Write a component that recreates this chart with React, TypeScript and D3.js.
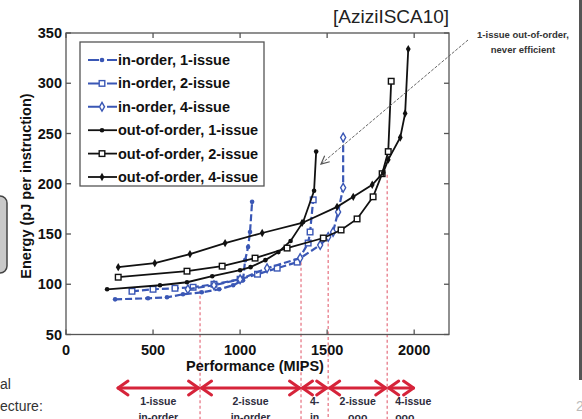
import { useRef, useEffect } from "react";
import * as d3 from "d3";

// values (MIPS, pJ per instruction)
const ioPerf1 = [282, 471, 580, 672, 780, 880, 960, 1017, 1029, 1046, 1057, 1069];
const ioEnergy1 = [85, 86, 87, 90, 92, 95, 99, 104, 124, 137, 152, 182];
const ioPerf2 = [379, 500, 626, 730, 850, 1000, 1100, 1213, 1328, 1391, 1402, 1420];
const ioEnergy2 = [93, 95, 96, 97, 100, 105, 110, 116, 122, 141, 152, 184];
const ioPerf4 = [700, 850, 1000, 1155, 1345, 1460, 1506, 1534, 1563, 1592, 1592];
const ioEnergy4 = [95, 99, 105, 116, 126, 139, 147, 152, 172, 196, 246];
const oooPerf1 = [236, 540, 695, 840, 1000, 1060, 1145, 1220, 1290, 1362, 1425, 1437];
const oooEnergy1 = [95, 99, 102, 108, 114, 117, 124, 132, 143, 162, 193, 232];
const oooPerf2 = [300, 695, 897, 1086, 1270, 1478, 1580, 1672, 1764, 1816, 1851, 1868];
const oooEnergy2 = [107, 113, 118, 126, 136, 146, 154, 165, 187, 210, 232, 302];
const oooPerf4 = [300, 510, 712, 914, 1127, 1356, 1557, 1650, 1759, 1822, 1851, 1920, 1948, 1966];
const oooEnergy4 = [117, 121, 130, 141, 151, 161, 177, 187, 199, 211, 224, 246, 270, 334];

const legendNames = [
  "in-order, 1-issue",
  "in-order, 2-issue",
  "in-order, 4-issue",
  "out-of-order, 1-issue",
  "out-of-order, 2-issue",
  "out-of-order, 4-issue",
];

const xTicks = [0, 500, 1000, 1500, 2000];
const yTicks = [50, 100, 150, 200, 250, 300, 350];

// regions of the optimal architecture
const bounds = [290, 770, 1350, 1506, 1845, 2005];
const boundTops = [94, 122, 146, 209];
const regionLabels = [
  ["1-issue", "in-order"],
  ["2-issue", "in-order"],
  ["4-", "in"],
  ["2-issue", "ooo"],
  ["4-issue", "ooo"],
];

const BLUE = "#3a57b5";
const RED = "#d6243a";
const FONT = "'Liberation Sans', Arial, sans-serif";

export default function App() {
  const svgRef = useRef(null);

  useEffect(() => {
    const svg = d3.select(svgRef.current).html(null);

    const x = d3.scaleLinear().domain([0, 2200]).range([66, 449]);
    const y = d3.scaleLinear().domain([50, 350]).range([334.5, 33]);

    svg.append("rect").attr("width", 582).attr("height", 419).attr("fill", "#fff");

    // slide leftovers
    svg.append("rect").attr("x", -20).attr("y", 196).attr("width", 27).attr("height", 77)
      .attr("rx", 7).attr("fill", "#c9c9c9").attr("stroke", "#444").attr("stroke-width", 1.5);
    svg.append("text").attr("x", 0).attr("y", 389).text("al")
      .style("font", `14px ${FONT}`).attr("fill", "#333");
    svg.append("text").attr("x", 0).attr("y", 411).text("ecture:")
      .style("font", `14px ${FONT}`).attr("fill", "#333");
    svg.append("rect").attr("x", 579).attr("y", 0).attr("width", 3).attr("height", 380).attr("fill", "#555");
    svg.append("text").attr("x", 576).attr("y", 411).text("2")
      .style("font", `14px ${FONT}`).attr("fill", "#bbb");

    svg.append("text").attr("x", 333).attr("y", 23).text("[AziziISCA10]")
      .style("font", `19px ${FONT}`).attr("fill", "#222");

    // dashed region boundaries
    svg.append("g").selectAll("line").data(boundTops).join("line")
      .attr("x1", (d, i) => x(bounds[i + 1])).attr("x2", (d, i) => x(bounds[i + 1]))
      .attr("y1", d => y(d)).attr("y2", 419)
      .attr("stroke", "#e77a88").attr("stroke-width", 1.3).attr("stroke-dasharray", "3,2.5");

    // frame + ticks
    const frame = svg.append("g").attr("stroke", "#555").attr("stroke-width", 1.3).attr("fill", "none");
    frame.append("rect").attr("x", x(0)).attr("y", y(350)).attr("width", x(2200) - x(0)).attr("height", y(50) - y(350));
    xTicks.forEach(t => {
      frame.append("line").attr("x1", x(t)).attr("x2", x(t)).attr("y1", y(50)).attr("y2", y(50) - 5);
      frame.append("line").attr("x1", x(t)).attr("x2", x(t)).attr("y1", y(350)).attr("y2", y(350) + 5);
    });
    yTicks.forEach(t => {
      frame.append("line").attr("x1", x(0)).attr("x2", x(0) + 5).attr("y1", y(t)).attr("y2", y(t));
      frame.append("line").attr("x1", x(2200)).attr("x2", x(2200) - 5).attr("y1", y(t)).attr("y2", y(t));
    });

    svg.append("g").selectAll("text").data(xTicks).join("text")
      .attr("x", d => x(d)).attr("y", 355).attr("text-anchor", "middle").text(d => d)
      .style("font", `bold 14.5px ${FONT}`).attr("fill", "#111");
    svg.append("g").selectAll("text").data(yTicks).join("text")
      .attr("x", 62).attr("y", d => y(d) + 5).attr("text-anchor", "end").text(d => d)
      .style("font", `bold 14.5px ${FONT}`).attr("fill", "#111");

    svg.append("text").attr("x", 255).attr("y", 371).attr("text-anchor", "middle")
      .text("Performance (MIPS)").style("font", `bold 14.5px ${FONT}`).attr("fill", "#111");
    svg.append("text").attr("transform", "translate(31,186) rotate(-90)").attr("text-anchor", "middle")
      .text("Energy (pJ per instruction)").style("font", `bold 14.5px ${FONT}`).attr("fill", "#111");

    const series = [
      { px: ioPerf1, py: ioEnergy1, color: BLUE, dash: "7,3", marker: "dot" },
      { px: ioPerf2, py: ioEnergy2, color: BLUE, dash: "7,3", marker: "square" },
      { px: ioPerf4, py: ioEnergy4, color: BLUE, dash: "7,3", marker: "diamond" },
      { px: oooPerf1, py: oooEnergy1, color: "#111", dash: null, marker: "dot" },
      { px: oooPerf2, py: oooEnergy2, color: "#111", dash: null, marker: "square" },
      { px: oooPerf4, py: oooEnergy4, color: "#111", dash: null, marker: "star" },
    ];

    const drawMarker = (g, cx, cy, s) => {
      if (s.marker === "dot") {
        g.append("circle").attr("cx", cx).attr("cy", cy).attr("r", 2.3).attr("fill", s.color);
      } else if (s.marker === "square") {
        g.append("rect").attr("x", cx - 2.8).attr("y", cy - 2.8).attr("width", 5.6).attr("height", 5.6)
          .attr("fill", "#fff").attr("stroke", s.color).attr("stroke-width", 1.4);
      } else if (s.marker === "diamond") {
        g.append("path").attr("d", d3.symbol(d3.symbolDiamond, 22)()).attr("transform", `translate(${cx},${cy})`)
          .attr("fill", "#fff").attr("stroke", s.color).attr("stroke-width", 1.4);
      } else {
        g.append("path").attr("d", d3.symbol(d3.symbolDiamond, 20)()).attr("transform", `translate(${cx},${cy})`)
          .attr("fill", s.color);
      }
    };

    const line = d3.line().x(d => x(d[0])).y(d => y(d[1]));
    series.forEach(s => {
      const pts = s.px.map((p, i) => [p, s.py[i]]);
      const g = svg.append("g");
      g.append("path").attr("d", line(pts)).attr("fill", "none").attr("stroke", s.color)
        .attr("stroke-width", s.dash ? 2.2 : 1.8).attr("stroke-dasharray", s.dash);
      pts.forEach(p => drawMarker(g, x(p[0]), y(p[1]), s));
    });

    // legend
    const lg = svg.append("g");
    lg.append("rect").attr("x", 80).attr("y", 42).attr("width", 184).attr("height", 144)
      .attr("fill", "#fff").attr("stroke", "#555").attr("stroke-width", 1.3);
    series.forEach((s, i) => {
      const ly = 60 + i * 23.4;
      lg.append("line").attr("x1", 88).attr("x2", 117).attr("y1", ly).attr("y2", ly)
        .attr("stroke", s.color).attr("stroke-width", s.dash ? 2 : 1.8).attr("stroke-dasharray", s.dash ? "11,3,2,3" : null);
      drawMarker(lg, 102, ly, s);
      lg.append("text").attr("x", 118).attr("y", ly + 5).text(legendNames[i])
        .style("font", `bold 14.5px ${FONT}`).attr("fill", "#111");
    });

    // annotation
    svg.append("line").attr("x1", 468).attr("y1", 40).attr("x2", 321).attr("y2", 164)
      .attr("stroke", "#666").attr("stroke-width", 1).attr("stroke-dasharray", "3,1.5");
    const ang = Math.atan2(40 - 164, 468 - 321);
    const hd = [ang + 0.45, ang - 0.45].map(a => [321 + 9 * Math.cos(a), 164 + 9 * Math.sin(a)]);
    svg.append("path").attr("d", `M${hd[0][0]},${hd[0][1]}L321,164L${hd[1][0]},${hd[1][1]}`)
      .attr("fill", "none").attr("stroke", "#555").attr("stroke-width", 1.2);
    svg.append("text").attr("x", 523).attr("y", 38).attr("text-anchor", "middle").text("1-issue out-of-order,")
      .style("font", `bold 9.5px ${FONT}`).attr("fill", "#333");
    svg.append("text").attr("x", 523).attr("y", 53).attr("text-anchor", "middle").text("never efficient")
      .style("font", `bold 9.5px ${FONT}`).attr("fill", "#333");

    // region arrows
    const ay = 388;
    const ag = svg.append("g").attr("stroke", RED).attr("stroke-width", 3).attr("fill", "none")
      .attr("stroke-linecap", "round").attr("stroke-linejoin", "round");
    regionLabels.forEach((lab, i) => {
      const a = x(bounds[i]) + 1.5, b = x(bounds[i + 1]) - 1.5;
      ag.append("line").attr("x1", a).attr("x2", b).attr("y1", ay).attr("y2", ay);
      ag.append("path").attr("d", `M${a + 10},${ay - 7}L${a},${ay}L${a + 10},${ay + 7}`);
      ag.append("path").attr("d", `M${b - 10},${ay - 7}L${b},${ay}L${b - 10},${ay + 7}`);
      const last = i === regionLabels.length - 1;
      const tx = last ? x(bounds[i]) + 8 : (a + b) / 2;
      lab.forEach((t, j) => {
        svg.append("text").attr("x", tx).attr("y", 405 + j * 16)
          .attr("text-anchor", last ? "start" : "middle").text(t)
          .style("font", `bold 10.5px ${FONT}`).attr("fill", "#2c2c3c");
      });
    });
  }, []);

  return <svg ref={svgRef} width={582} height={419} style={{ position: "absolute", left: 0, top: 0 }}></svg>;
}
